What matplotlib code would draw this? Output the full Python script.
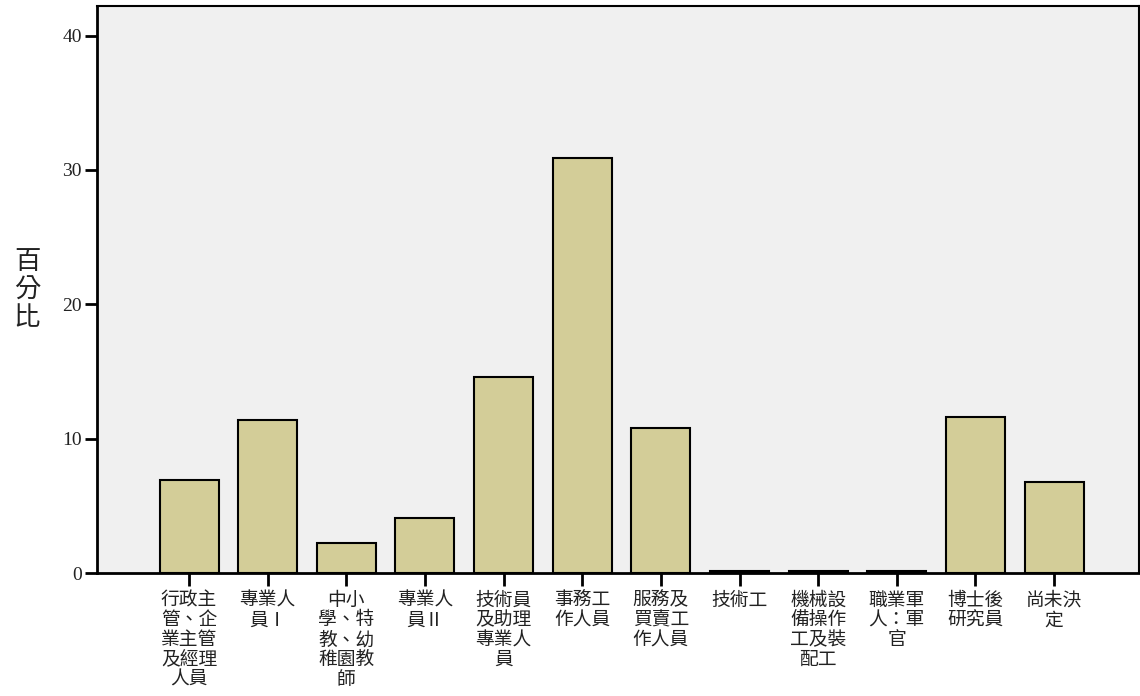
import matplotlib
matplotlib.use("Agg")
import matplotlib.pyplot as plt

categories = [
    "行政主\n管、企\n業主管\n及經理\n人員",
    "專業人\n員Ⅰ",
    "中小\n學、特\n教、幼\n稚園教\n師",
    "專業人\n員Ⅱ",
    "技術員\n及助理\n專業人\n員",
    "事務工\n作人員",
    "服務及\n買賣工\n作人員",
    "技術工",
    "機械設\n備操作\n工及裝\n配工",
    "職業軍\n人：軍\n官",
    "博士後\n研究員",
    "尚未決\n定",
]
percent = [6.9, 11.4, 2.2, 4.1, 14.6, 30.9, 10.8, 0.15, 0.15, 0.15, 11.6, 6.8]
yticks = [0, 10, 20, 30, 40]
ylabel = "百分比"

plt.rcParams['font.family'] = ['Noto Sans CJK TC', 'DejaVu Sans']

fig = plt.figure(figsize=(11.4, 6.96), dpi=100)
ax = fig.add_axes([97/1140, 1-573/696, (1139-97)/1140, (573-6)/696])
ax.set_facecolor('#f0f0f0')

x = list(range(len(categories)))
ax.bar(x, percent, width=0.75, color='#d3cd98', edgecolor='black', linewidth=1.5, zorder=3)

ax.set_xlim(-1.17, 12.08)
ax.set_ylim(0, 42.2)
ax.set_yticks(yticks)
ax.set_yticklabels([str(v) for v in yticks], fontfamily='Liberation Serif', fontsize=14, color='#222222')
ax.set_xticks(x)
ax.set_xticklabels(categories, fontsize=13.5, linespacing=0.92, va='top', ha='center', color='#222222')
ax.tick_params(axis='both', direction='out', length=9, width=2, color='black')
ax.tick_params(axis='x', pad=3)
ax.tick_params(axis='y', pad=2)
for s in ax.spines.values():
    s.set_linewidth(1.5)
    s.set_color('black')
ax.spines['left'].set_linewidth(2)
ax.spines['bottom'].set_linewidth(2)

fig.text(27/1140, 1-290/696, "\n".join(ylabel), fontsize=19, fontweight='light',
         ha='center', va='center', linespacing=1.05, color='#222222')

fig.savefig("out.png", dpi=100, facecolor='white')
